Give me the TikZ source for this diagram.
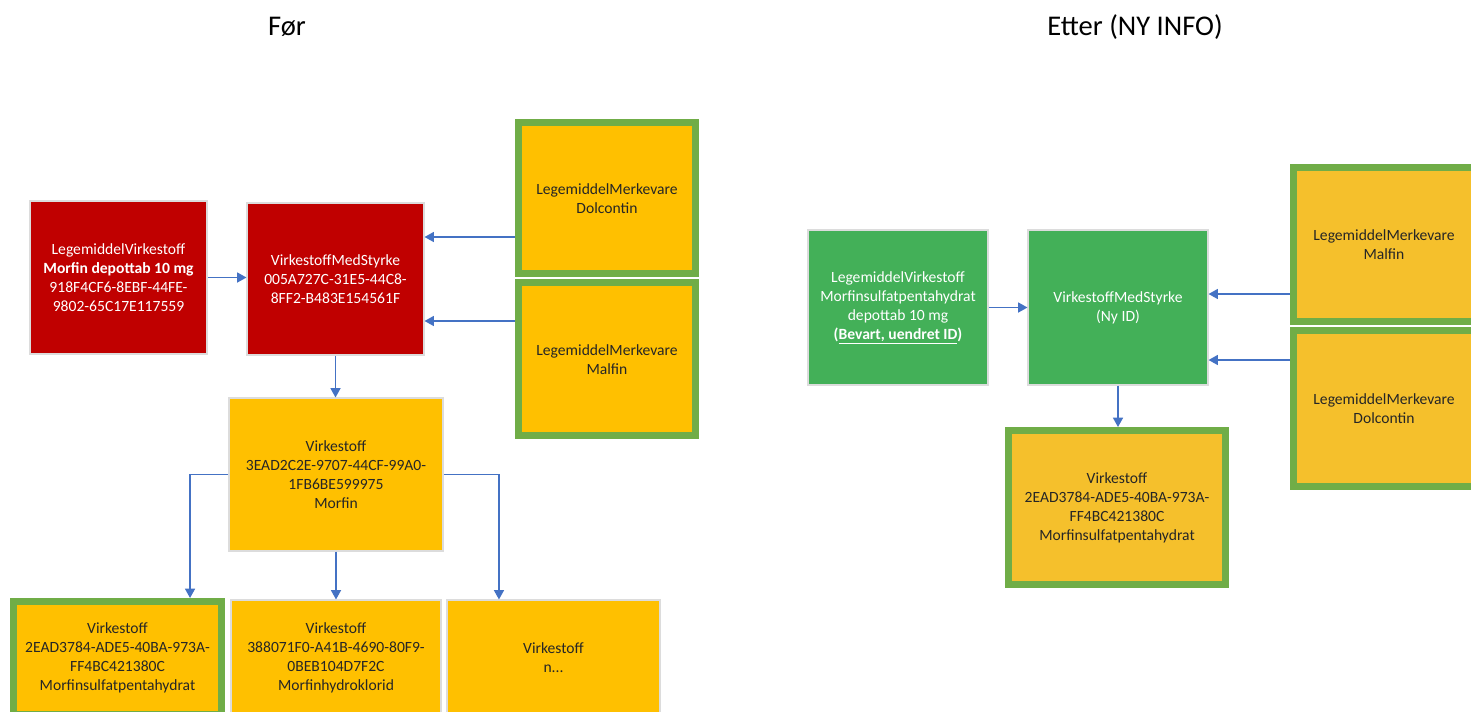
\documentclass[tikz,border=0pt]{standalone}
\usepackage{fontspec}
\setmainfont{Carlito}
\usetikzlibrary{arrows.meta}
\definecolor{redbox}{HTML}{C00000}
\definecolor{yelL}{HTML}{FFC000}
\definecolor{yelR}{HTML}{F5C02C}
\definecolor{grnB}{HTML}{70AD47}
\definecolor{grnF}{HTML}{43B058}
\definecolor{arrB}{HTML}{4472C4}
\definecolor{thin}{HTML}{DCDCDC}
\definecolor{darktxt}{HTML}{262626}
\newcommand{\tp}{\rule{0pt}{8.6pt}}
\tikzset{
  base/.style={rectangle, inner sep=0pt, align=center, font=\fontsize{11.7}{14.3}\selectfont},
  redb/.style={base, fill=redbox, draw=thin, line width=0.8pt, text=white},
  grnb/.style={base, fill=grnF, draw=thin, line width=0.8pt, text=white},
  yelb/.style={base, fill=yelL, draw=thin, line width=0.8pt, text=darktxt},
  yelg/.style={base, fill=yelL, draw=grnB, line width=5.25pt, text=darktxt},
  yelgr/.style={base, fill=yelR, draw=grnB, line width=5.25pt, text=darktxt},
  sz/.style 2 args={minimum width=#1, minimum height=#2},
  arr/.style={draw=arrB, line width=1.1pt, -{Triangle[length=7pt,width=7.5pt]}},
  ttl/.style={font=\fontsize{21.4}{25}\selectfont, text=black}
}
\begin{document}
\begin{tikzpicture}[x=0.75pt,y=-0.75pt]
\clip (0,0) rectangle (1471,711);
\fill[white] (0,0) rectangle (1471,711);
% titles
\node[ttl] (t1) at (287,27) {Før};
\node[ttl] (t2) at (1135,27) {Etter (NY INFO)};
% ---------- left (Før) ----------
\node[redb, sz={132.75pt}{114.75pt}] (lv) at (118.5,277.5) {\tp LegemiddelVirkestoff\\\textbf{Morfin depottab 10 mg}\\918F4CF6-8EBF-44FE-\\9802-65C17E117559};
\node[redb, sz={132.75pt}{114pt}] (vms) at (335.5,279) {\tp VirkestoffMedStyrke\\005A727C-31E5-44C8-\\8FF2-B483E154561F};
\node[yelg, sz={132.75pt}{113.25pt}] (dol) at (607,198) {\tp LegemiddelMerkevare\\Dolcontin};
\node[yelg, sz={132.75pt}{114.75pt}] (mal) at (607,359) {\tp LegemiddelMerkevare\\Malfin};
\node[yelb, sz={160.5pt}{114.75pt}] (mor) at (336,474.5) {\tp Virkestoff\\3EAD2C2E-9707-44CF-99A0-\\1FB6BE599975\\Morfin};
\node[yelg, sz={156pt}{84.4pt}] (sul) at (117.5,657.75) {\tp Virkestoff\\2EAD3784-ADE5-40BA-973A-\\FF4BC421380C\\Morfinsulfatpentahydrat};
\node[yelb, sz={157.5pt}{86.25pt}] (hyd) at (336,657.5) {\tp Virkestoff\\388071F0-A41B-4690-80F9-\\0BEB104D7F2C\\Morfinhydroklorid};
\node[yelb, sz={159.75pt}{86.25pt}] (nn) at (553.5,657.5) {\tp Virkestoff\\n...};
% left arrows
\draw[arr] (lv.east) -- (lv.east -| vms.west);
\path (dol.west) ++(0,39) coordinate (d1);
\draw[arr] (d1) -- (d1 -| vms.east);
\path (mal.west) ++(0,-38) coordinate (m1);
\draw[arr] (m1) -- (m1 -| vms.east);
\draw[arr] (vms.south) -- (vms.south |- mor.north);
\draw[arr] (mor.west) -| ([xshift=54.4pt]sul.north);
\draw[arr] (mor.south) -- (hyd.north);
\draw[arr] (mor.east) -| ([xshift=-40.9pt]nn.north);
% ---------- right (Etter) ----------
\node[grnb, sz={135pt}{116.25pt}] (lv2) at (898,307.5) {\tp LegemiddelVirkestoff\\Morfinsulfatpentahydrat\\depottab 10 mg\\\textbf{(\underline{Bevart, uendret ID})}};
\node[grnb, sz={135pt}{116.25pt}] (vms2) at (1118,307.5) {\tp VirkestoffMedStyrke\\(Ny ID)};
\node[yelgr, sz={135.75pt}{115.5pt}] (mal2) at (1384,244.5) {\tp LegemiddelMerkevare\\Malfin};
\node[yelgr, sz={135.75pt}{117pt}] (dol2) at (1384,408.5) {\tp LegemiddelMerkevare\\Dolcontin};
\node[yelgr, sz={162.75pt}{115.5pt}] (vir2) at (1117,507.5) {\tp Virkestoff\\2EAD3784-ADE5-40BA-973A-\\FF4BC421380C\\Morfinsulfatpentahydrat};
% right arrows
\draw[arr] (lv2.east) -- (lv2.east -| vms2.west);
\path (mal2.west) ++(0,49.5) coordinate (m2);
\draw[arr] (m2) -- (m2 -| vms2.east);
\path (dol2.west) ++(0,-48.5) coordinate (d2);
\draw[arr] (d2) -- (d2 -| vms2.east);
\draw[arr] (vms2.south) -- (vms2.south |- vir2.north);
\end{tikzpicture}
\end{document}
